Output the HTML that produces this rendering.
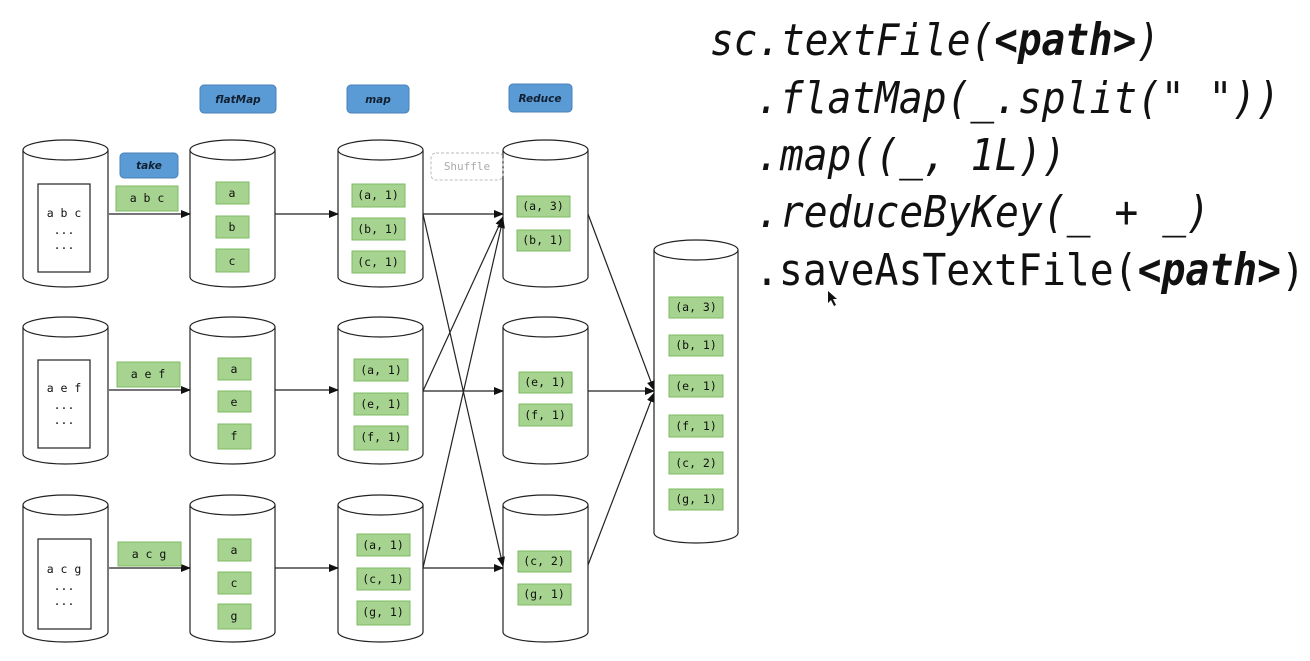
<!DOCTYPE html>
<html><head><meta charset="utf-8"><style>
html,body{margin:0;padding:0;background:#fff;}
svg{display:block;}
.g{fill:#a6d38f;stroke:#7dbb63;stroke-width:1;}
.b{fill:#5b9bd5;stroke:#4a82b8;stroke-width:1;}
.t{font-family:"DejaVu Sans Mono","Liberation Mono",monospace;font-size:11.5px;fill:#111;text-anchor:middle;}
.l{font-family:"DejaVu Sans","Liberation Sans",sans-serif;font-size:10.5px;font-weight:bold;font-style:italic;fill:#102030;text-anchor:middle;}
.c{font-family:"DejaVu Sans Mono","Liberation Mono",monospace;font-style:oblique;font-size:44px;fill:#111;}
.ln{stroke:#222;stroke-width:1.2;fill:none;}
</style></head><body>
<svg width="1310" height="661" viewBox="0 0 1310 661" xmlns="http://www.w3.org/2000/svg">
<defs>
<marker id="a" markerWidth="10" markerHeight="10" refX="9" refY="5" orient="auto" markerUnits="userSpaceOnUse"><path d="M0,1 L10,5 L0,9 z" fill="#111"/></marker>
<g id="cyl"><path d="M0,10 L0,137 A42.5,10 0 0 0 85,137 L85,10" fill="#fff" stroke="#222" stroke-width="1.2"/><ellipse cx="42.5" cy="10" rx="42.5" ry="10" fill="#fff" stroke="#222" stroke-width="1.2"/></g>
</defs>

<use href="#cyl" x="23" y="140"/><use href="#cyl" x="23" y="317"/><use href="#cyl" x="23" y="495"/>
<use href="#cyl" x="190" y="140"/><use href="#cyl" x="190" y="317"/><use href="#cyl" x="190" y="495"/>
<use href="#cyl" x="338" y="140"/><use href="#cyl" x="338" y="317"/><use href="#cyl" x="338" y="495"/>
<use href="#cyl" x="503" y="140"/><use href="#cyl" x="503" y="317"/><use href="#cyl" x="503" y="495"/>
<path d="M654,250 L654,533 A42,10 0 0 0 738,533 L738,250" fill="#fff" stroke="#222" stroke-width="1.2"/>
<ellipse cx="696" cy="250" rx="42" ry="10" fill="#fff" stroke="#222" stroke-width="1.2"/>

<rect x="38" y="184" width="52" height="88" fill="#fff" stroke="#222" stroke-width="1.2"/>
<rect x="38" y="360" width="52" height="88" fill="#fff" stroke="#222" stroke-width="1.2"/>
<rect x="38" y="539" width="53" height="90" fill="#fff" stroke="#222" stroke-width="1.2"/>
<text class="t" x="64" y="217">a b c</text><text class="t" x="64" y="234">...</text><text class="t" x="64" y="249">...</text>
<text class="t" x="64" y="392">a e f</text><text class="t" x="64" y="409">...</text><text class="t" x="64" y="424">...</text>
<text class="t" x="64" y="573">a c g</text><text class="t" x="64" y="590">...</text><text class="t" x="64" y="605">...</text>

<line class="ln" x1="109" y1="214" x2="190" y2="214" marker-end="url(#a)"/>
<line class="ln" x1="109" y1="390" x2="190" y2="390" marker-end="url(#a)"/>
<line class="ln" x1="109" y1="568" x2="190" y2="568" marker-end="url(#a)"/>
<line class="ln" x1="275" y1="214" x2="338" y2="214" marker-end="url(#a)"/>
<line class="ln" x1="275" y1="390" x2="338" y2="390" marker-end="url(#a)"/>
<line class="ln" x1="275" y1="568" x2="338" y2="568" marker-end="url(#a)"/>
<line class="ln" x1="423" y1="214" x2="503" y2="214" marker-end="url(#a)"/>
<line class="ln" x1="423" y1="391" x2="503" y2="391" marker-end="url(#a)"/>
<line class="ln" x1="423" y1="568" x2="503" y2="568" marker-end="url(#a)"/>
<line class="ln" x1="423" y1="214" x2="503" y2="566" marker-end="url(#a)"/>
<line class="ln" x1="423" y1="391" x2="503" y2="217" marker-end="url(#a)"/>
<line class="ln" x1="423" y1="568" x2="503" y2="219" marker-end="url(#a)"/>
<line class="ln" x1="588" y1="214" x2="654" y2="390" marker-end="url(#a)"/>
<line class="ln" x1="588" y1="391" x2="654" y2="391" marker-end="url(#a)"/>
<line class="ln" x1="588" y1="565" x2="654" y2="393" marker-end="url(#a)"/>

<rect class="g" x="116" y="186" width="62" height="25"/><text class="t" x="147" y="202">a b c</text>
<rect class="g" x="117" y="362" width="63" height="25"/><text class="t" x="148" y="378">a e f</text>
<rect class="g" x="118" y="542" width="63" height="24"/><text class="t" x="149" y="558">a c g</text>

<rect class="g" x="216" y="182" width="33" height="22"/><text class="t" x="232" y="197">a</text>
<rect class="g" x="216" y="216" width="33" height="22"/><text class="t" x="232" y="231">b</text>
<rect class="g" x="216" y="249" width="33" height="23"/><text class="t" x="232" y="265">c</text>
<rect class="g" x="218" y="358" width="33" height="22"/><text class="t" x="234" y="373">a</text>
<rect class="g" x="218" y="391" width="33" height="21"/><text class="t" x="234" y="406">e</text>
<rect class="g" x="218" y="424" width="33" height="25"/><text class="t" x="234" y="440">f</text>
<rect class="g" x="218" y="539" width="33" height="22"/><text class="t" x="234" y="554">a</text>
<rect class="g" x="218" y="572" width="33" height="22"/><text class="t" x="234" y="587">c</text>
<rect class="g" x="218" y="604" width="33" height="25"/><text class="t" x="234" y="620">g</text>

<rect class="g" x="352" y="184" width="53" height="23"/><text class="t" x="378" y="199">(a, 1)</text>
<rect class="g" x="352" y="218" width="53" height="22"/><text class="t" x="378" y="233">(b, 1)</text>
<rect class="g" x="352" y="251" width="53" height="22"/><text class="t" x="378" y="266">(c, 1)</text>
<rect class="g" x="354" y="359" width="54" height="22"/><text class="t" x="381" y="374">(a, 1)</text>
<rect class="g" x="354" y="393" width="54" height="22"/><text class="t" x="381" y="408">(e, 1)</text>
<rect class="g" x="354" y="426" width="54" height="24"/><text class="t" x="381" y="441">(f, 1)</text>
<rect class="g" x="357" y="534" width="53" height="22"/><text class="t" x="383" y="549">(a, 1)</text>
<rect class="g" x="357" y="568" width="53" height="22"/><text class="t" x="383" y="583">(c, 1)</text>
<rect class="g" x="357" y="601" width="53" height="24"/><text class="t" x="383" y="616">(g, 1)</text>

<rect class="g" x="517" y="196" width="53" height="21"/><text class="t" x="543" y="210">(a, 3)</text>
<rect class="g" x="517" y="230" width="53" height="21"/><text class="t" x="543" y="244">(b, 1)</text>
<rect class="g" x="519" y="372" width="53" height="21"/><text class="t" x="545" y="386">(e, 1)</text>
<rect class="g" x="519" y="404" width="53" height="22"/><text class="t" x="545" y="419">(f, 1)</text>
<rect class="g" x="518" y="551" width="53" height="21"/><text class="t" x="544" y="565">(c, 2)</text>
<rect class="g" x="518" y="584" width="53" height="21"/><text class="t" x="544" y="598">(g, 1)</text>

<rect class="g" x="669" y="297" width="54" height="21"/><text class="t" x="696" y="311">(a, 3)</text>
<rect class="g" x="669" y="335" width="54" height="21"/><text class="t" x="696" y="349">(b, 1)</text>
<rect class="g" x="669" y="375" width="54" height="22"/><text class="t" x="696" y="390">(e, 1)</text>
<rect class="g" x="669" y="415" width="54" height="22"/><text class="t" x="696" y="430">(f, 1)</text>
<rect class="g" x="669" y="452" width="54" height="22"/><text class="t" x="696" y="467">(c, 2)</text>
<rect class="g" x="669" y="489" width="54" height="21"/><text class="t" x="696" y="503">(g, 1)</text>

<rect class="b" x="200" y="85" width="76" height="28" rx="4"/><text class="l" x="238" y="103">flatMap</text>
<rect class="b" x="347" y="85" width="62" height="28" rx="4"/><text class="l" x="378" y="103">map</text>
<rect class="b" x="509" y="84" width="63" height="28" rx="4"/><text class="l" x="540" y="102">Reduce</text>
<rect class="b" x="120" y="153" width="58" height="25" rx="4"/><text class="l" x="149" y="169">take</text>
<rect x="431" y="153" width="72" height="27" rx="5" fill="none" stroke="#bbb" stroke-dasharray="3,2"/>
<text x="467" y="170" style="font-family:'DejaVu Sans Mono',monospace;font-size:11px;fill:#aaa;text-anchor:middle;">Shuffle</text>

<text class="c" x="710" y="55" textLength="450" lengthAdjust="spacingAndGlyphs">sc.textFile(<tspan font-weight="bold">&lt;path&gt;</tspan>)</text>
<text class="c" x="756" y="113" textLength="524" lengthAdjust="spacingAndGlyphs">.flatMap(_.split(" "))</text>
<text class="c" x="756" y="170" textLength="310" lengthAdjust="spacingAndGlyphs">.map((_, 1L))</text>
<text class="c" x="756" y="227" textLength="454" lengthAdjust="spacingAndGlyphs">.reduceByKey(_ + _)</text>
<text class="c" x="755" y="285" textLength="550" lengthAdjust="spacingAndGlyphs"><tspan style="font-style:normal">.saveAsTextFile(</tspan><tspan font-weight="bold">&lt;path&gt;</tspan><tspan style="font-style:normal">)</tspan></text>
<path d="M828,291 L828,303 L831,300 L834,306 L836,305 L833,299 L837,299 z" fill="#111"/>
</svg>
</body></html>
